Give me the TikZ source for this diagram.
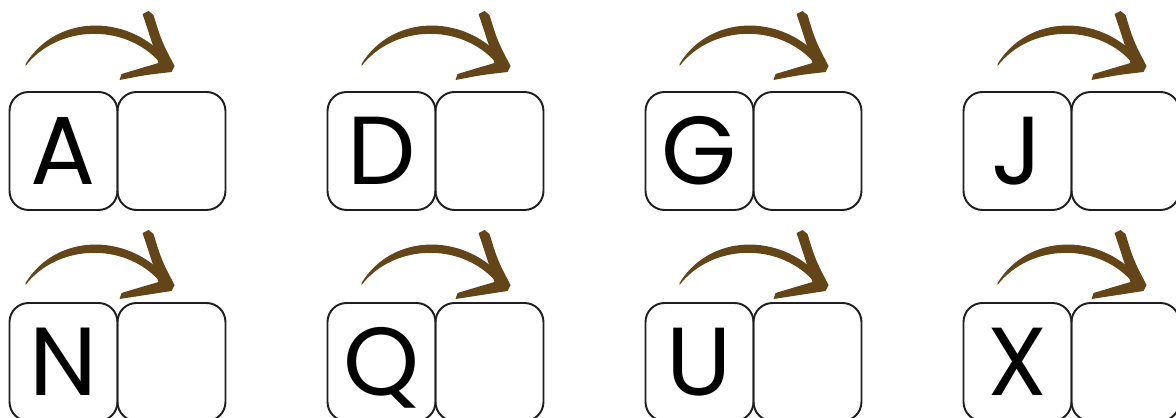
\documentclass[tikz,border=0pt]{standalone}
\usepackage{fontspec}
\setmainfont{Poppins}
\usetikzlibrary{positioning}
\definecolor{arrowBrown}{HTML}{634517}
\definecolor{boxGray}{HTML}{1E1E1E}
\tikzset{
  letterbox/.style={draw=boxGray, line width=1.1pt, rounded corners=0.38cm,
                    minimum width=2.16cm, minimum height=2.36cm, inner sep=0pt,
                    outer sep=0pt, font=\fontsize{55}{55}\selectfont,
                    text height=38.5pt, text depth=0pt},
  emptybox/.style={letterbox},
  brushstroke/.style={fill=arrowBrown, draw=none},
}
\begin{document}
\begin{tikzpicture}[x=0.02cm, y=0.02cm]
\def\xBox{318}     % horizontal spacing between groups
\def\yRow{211}     % vertical spacing between rows
\useasboundingbox (0,0) rectangle (1176,418);

%% Boxes: group index / top letter / bottom letter / arrow shift
\foreach \g/\top/\bot/\ashift in {0/A/N/-18, 1/D/Q/0, 2/G/U/0, 3/J/X/0} {
  \foreach \row/\lbl/\lift in {0/\top/27, 1/\bot/19} {
    \pgfmathsetmacro{\xpos}{63.5 + \g*\xBox}
    \pgfmathsetmacro{\ypos}{267 - \row*\yRow}
    \node[letterbox] (L\g\row) at (\xpos, \ypos) {\lbl};
    \node[emptybox, right=0pt of L\g\row] (E\g\row) {};
    \coordinate (S\g\row) at ([xshift=(34+\ashift)*0.02cm, yshift=\lift*0.02cm]L\g\row.north west);
    %% brush arrow from above the letter to above the empty box
    \begin{scope}[shift={(S\g\row)}]
      \fill[brushstroke] (0,1) .. controls (30,50) and (100,52) .. (140,8)
        -- (133,4) .. controls (98,42) and (32,40) .. (0,-1) -- cycle;
      \fill[brushstroke] (117,51) -- (123,54) -- (128,50) .. controls (136,24) .. (149,-1)
        -- (146,-7) .. controls (120,-10) .. (94,-15) -- (96,-9)
        .. controls (116,-3) .. (133,2) .. controls (126,24) .. (117,51) -- cycle;
    \end{scope}
  }
}
\end{tikzpicture}
\end{document}
